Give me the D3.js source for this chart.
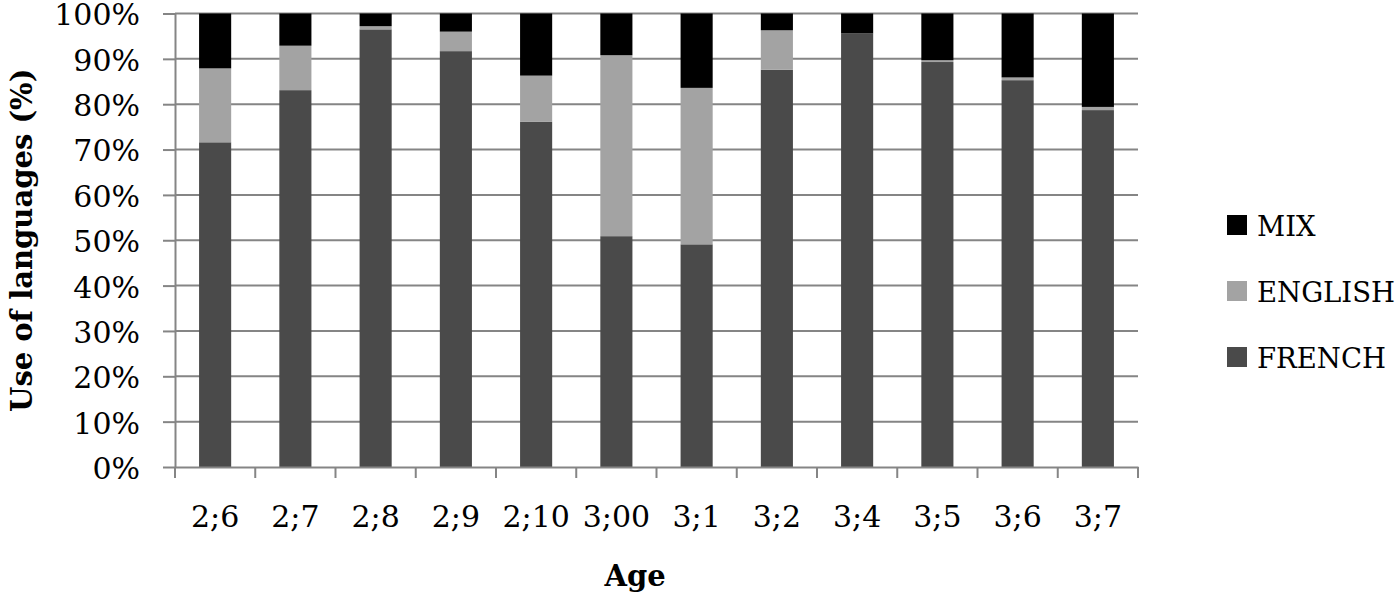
<!DOCTYPE html>
<html>
<head>
<meta charset="utf-8">
<script src="https://cdn.jsdelivr.net/npm/d3@7"></script>
<style>
  html, body { margin: 0; padding: 0; background: #fff; }
  svg { display: block; }
</style>
</head>
<body>
<svg id="chart" width="1400" height="594"></svg>
<script>
const categories = ["2;6", "2;7", "2;8", "2;9", "2;10", "3;00", "3;1", "3;2", "3;4", "3;5", "3;6", "3;7"];
const french  = [71.6, 83.1, 96.5, 91.7, 76.1, 50.9, 49.1, 87.6, 95.6, 89.3, 85.3, 78.7];
const english = [16.3,  9.8,  0.7,  4.3, 10.2, 39.9, 34.5,  8.7,  0.0,  0.4,  0.6,  0.7];
const mix     = [12.1,  7.1,  2.8,  4.0, 13.7,  9.2, 16.4,  3.7,  4.4, 10.3, 14.1, 20.6];
const seriesNames = ["FRENCH", "ENGLISH", "MIX"];
const seriesColors = ["#4a4a4a", "#a3a3a3", "#000000"];
const yTicks = [0, 10, 20, 30, 40, 50, 60, 70, 80, 90, 100];

(function () {
const rows = categories.map((c, i) => ({ cat: c, FRENCH: french[i], ENGLISH: english[i], MIX: mix[i] }));
const stacked = d3.stack().keys(seriesNames)(rows);

const svg = d3.select("#chart");
const pLeft = 175, pRight = 1138, pTop = 13.5, pBottom = 467;
const serif = "'DejaVu Serif', serif";
const gridColor = "#858585";

const x = d3.scaleBand().domain(categories).range([pLeft, pRight]).paddingInner(0.6).paddingOuter(0.3);
const y = d3.scaleLinear().domain([0, 100]).range([pBottom, pTop]);

// gridlines
svg.append("g").selectAll("line").data(yTicks.filter(d => d > 0)).join("line")
  .attr("x1", pLeft).attr("x2", pRight)
  .attr("y1", d => y(d)).attr("y2", d => y(d))
  .attr("stroke", gridColor).attr("stroke-width", 2);

// bars
const color = d3.scaleOrdinal().domain(seriesNames).range(seriesColors);
svg.append("g").selectAll("g").data(stacked).join("g")
  .attr("fill", d => color(d.key))
  .selectAll("rect").data(d => d).join("rect")
  .attr("x", d => x(d.data.cat))
  .attr("width", x.bandwidth())
  .attr("y", d => y(d[1]))
  .attr("height", d => y(d[0]) - y(d[1]));

// y axis
const yAxis = svg.append("g").attr("transform", `translate(${pLeft},0)`)
  .call(d3.axisLeft(y).tickValues(yTicks).tickFormat(d => d + "%").tickSize(12).tickSizeOuter(0).tickPadding(10));
yAxis.select(".domain").attr("stroke", gridColor).attr("stroke-width", 2);
yAxis.selectAll(".tick line").attr("stroke", gridColor).attr("stroke-width", 2);
yAxis.selectAll(".tick text").attr("font-family", serif).attr("font-size", 30).attr("fill", "#000")
  .attr("x", -35).attr("dy", "0.38em");

// x axis
const xAxis = svg.append("g").attr("transform", `translate(0,${pBottom})`)
  .call(d3.axisBottom(x).tickSize(0).tickSizeOuter(0).tickPadding(0));
xAxis.select(".domain").attr("stroke", gridColor).attr("stroke-width", 2);
xAxis.selectAll(".tick text").attr("font-family", serif).attr("font-size", 30).attr("fill", "#000")
  .attr("y", 60).attr("dy", 0);
// category boundary ticks
const step = (pRight - pLeft) / categories.length;
const bounds = d3.range(categories.length + 1).map(i => pLeft + i * step);
svg.append("g").selectAll("line").data(bounds).join("line")
  .attr("x1", d => d).attr("x2", d => d)
  .attr("y1", pBottom).attr("y2", pBottom + 11)
  .attr("stroke", gridColor).attr("stroke-width", 2);

// axis titles
svg.append("text")
  .attr("transform", `translate(32,${(pTop + pBottom) / 2}) rotate(-90)`)
  .attr("text-anchor", "middle")
  .attr("font-family", serif).attr("font-weight", "bold").attr("font-size", 29)
  .text("Use of languages (%)");
svg.append("text")
  .attr("x", 635).attr("y", 586)
  .attr("text-anchor", "middle")
  .attr("font-family", serif).attr("font-weight", "bold").attr("font-size", 29)
  .text("Age");

// legend
const legendOrder = ["MIX", "ENGLISH", "FRENCH"];
const lg = svg.append("g").selectAll("g").data(legendOrder).join("g")
  .attr("transform", (d, i) => `translate(1227,${215 + i * 66})`);
lg.append("rect").attr("width", 20).attr("height", 20).attr("fill", d => color(d));
lg.append("text").attr("x", 30).attr("y", 21)
  .attr("font-family", serif).attr("font-size", 27.5).attr("fill", "#000")
  .text(d => d);
})();
</script>
</body>
</html>
